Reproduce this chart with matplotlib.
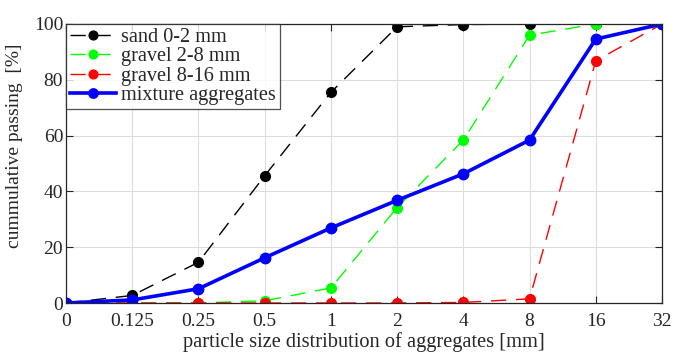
import matplotlib
matplotlib.use("Agg")
import matplotlib.pyplot as plt

sizes = ["0", "0.125", "0.25", "0.5", "1", "2", "4", "8", "16", "32"]
sand = [0, 2.7, 14.6, 45.6, 75.5, 99.0, 99.8, 100, 100, 100]
gravel_2_8 = [0, 0, 0, 0.8, 5.4, 34.2, 58.4, 96.0, 100, 100]
gravel_8_16 = [0, 0, 0, 0, 0, 0, 0.2, 1.5, 86.8, 100]
mixture = [0, 1.1, 5.1, 16.2, 26.9, 36.8, 46.3, 58.4, 94.6, 100]

plt.rcParams["font.family"] = ["Liberation Serif", "DejaVu Serif"]
plt.rcParams["font.size"] = 14

ink = "#262626"
fig = plt.figure(figsize=(6.75, 3.58), dpi=100)
ax = fig.add_axes([66 / 675, 1 - 303 / 358, (662 - 66) / 675, (303 - 24) / 358])

x = list(range(len(sizes)))
dash = (0, (11, 7))
ax.plot(x, sand, color="black", lw=1.0, ls=dash, marker="o", ms=7, label="sand 0-2 mm")
ax.plot(x, gravel_2_8, color="#00ff00", lw=1.0, ls=dash, marker="o", ms=7, label="gravel 2-8 mm")
ax.plot(x, gravel_8_16, color="red", lw=1.0, ls=dash, marker="o", ms=7, label="gravel 8-16 mm")
ax.plot(x, mixture, color="blue", lw=2.6, marker="o", ms=7.5, label="mixture aggregates")

ax.set_xlim(0, len(sizes) - 1)
ax.set_ylim(0, 100)
ax.set_xticks(x)
ax.set_xticklabels(sizes)
ax.set_yticks([0, 20, 40, 60, 80, 100])
ax.grid(True, color="#dddddd", lw=0.8)
ax.set_axisbelow(True)
ax.tick_params(direction="in", top=True, right=True, length=5, width=0.8,
               colors=ink, labelcolor=ink, labelsize=14)
ax.tick_params(axis="x", pad=7)
ax.tick_params(axis="y", pad=2)
for s in ax.spines.values():
    s.set_color(ink)
    s.set_linewidth(0.9)

ax.set_xlabel("particle size distribution of aggregates [mm]", fontsize=14.7, labelpad=2, color=ink)
ax.set_ylabel("cummulative passing  [%]", fontsize=14, color=ink)
ax.yaxis.set_label_coords(-0.072, 0.565)

leg = ax.legend(loc="upper left", borderaxespad=0, frameon=True, fancybox=False,
                edgecolor=ink, fontsize=14.6, handlelength=2.25, handletextpad=0.25,
                labelspacing=0.0, borderpad=0.2, markerscale=0.9)
leg.get_frame().set_linewidth(0.9)
for t in leg.get_texts():
    t.set_color(ink)

fig.savefig("out.png", dpi=100)
